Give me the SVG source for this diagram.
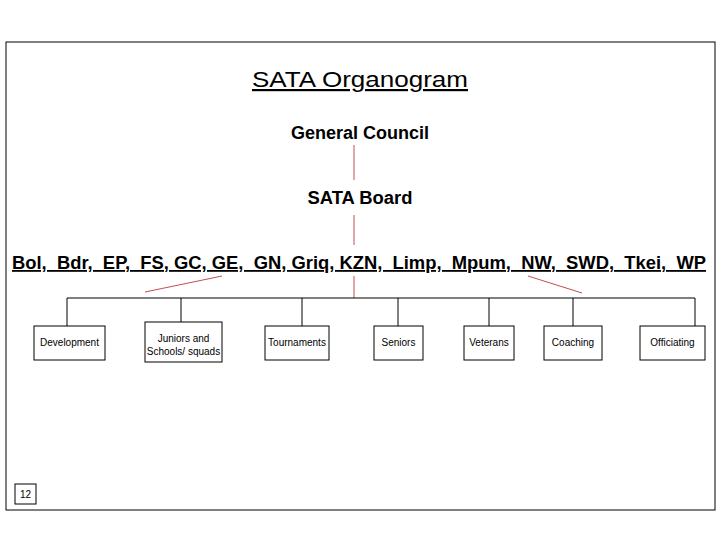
<svg xmlns="http://www.w3.org/2000/svg" width="720" height="540" viewBox="0 0 720 540">
<style>
text{font-family:"Liberation Sans",Arial,sans-serif;fill:#000}
.h{font-size:18px;font-weight:bold;text-anchor:middle}
.s{font-size:10px;text-anchor:middle}
.b{fill:#fff;stroke:#000;stroke-width:1}
.r{stroke:#c0504d;stroke-width:1;fill:none}
.k{stroke:#000;stroke-width:1;fill:none}
</style>
<rect width="720" height="540" fill="#fff"/>
<rect x="6" y="42" width="709" height="468" class="b"/>
<g id="title"><text x="360" y="87" font-size="22" text-anchor="middle" text-decoration="underline" textLength="216" lengthAdjust="spacingAndGlyphs">SATA Organogram</text></g>
<g id="council"><text class="h" x="360" y="139" font-size="17" textLength="138" lengthAdjust="spacingAndGlyphs">General Council</text></g>
<g id="board"><text class="h" x="360" y="204" font-size="17" textLength="105" lengthAdjust="spacingAndGlyphs">SATA Board</text></g>
<g id="regions"><text class="h" x="359" y="269" xml:space="preserve" font-size="17" textLength="694" lengthAdjust="spacingAndGlyphs" text-decoration="underline">Bol,  Bdr,  EP,  FS, GC, GE,  GN, Griq, KZN,  Limp,  Mpum,  NW,  SWD,  Tkei,  WP</text></g>
<g id="connectors">
<path class="r" d="M354 145V180M354 215V245M354 276V298M145 292L222 276M528 276L582 293"/>
<path class="k" d="M67 298H695M67 298V326M181 298V322M302 298V326M398 298V326M489 298V326M573 298V326M695 298V326"/>
</g>
<g id="development"><rect class="b" x="34" y="326" width="71" height="34"/><text class="s" x="69.5" y="346">Development</text></g>
<g id="juniors"><rect class="b" x="145" y="322" width="77" height="40"/><text class="s" x="183.5" y="342">Juniors and</text><text class="s" x="183.5" y="355">Schools/ squads</text></g>
<g id="tournaments"><rect class="b" x="265" y="326" width="64" height="34"/><text class="s" x="297" y="346">Tournaments</text></g>
<g id="seniors"><rect class="b" x="374" y="326" width="49" height="34"/><text class="s" x="398.5" y="346">Seniors</text></g>
<g id="veterans"><rect class="b" x="464" y="326" width="50" height="34"/><text class="s" x="489" y="346">Veterans</text></g>
<g id="coaching"><rect class="b" x="544" y="326" width="58" height="34"/><text class="s" x="573" y="346">Coaching</text></g>
<g id="officiating"><rect class="b" x="640" y="326" width="65" height="34"/><text class="s" x="672.5" y="346">Officiating</text></g>
<g id="page"><rect class="b" x="15" y="484" width="21" height="20"/><text class="s" x="25.5" y="498">12</text></g>
</svg>
